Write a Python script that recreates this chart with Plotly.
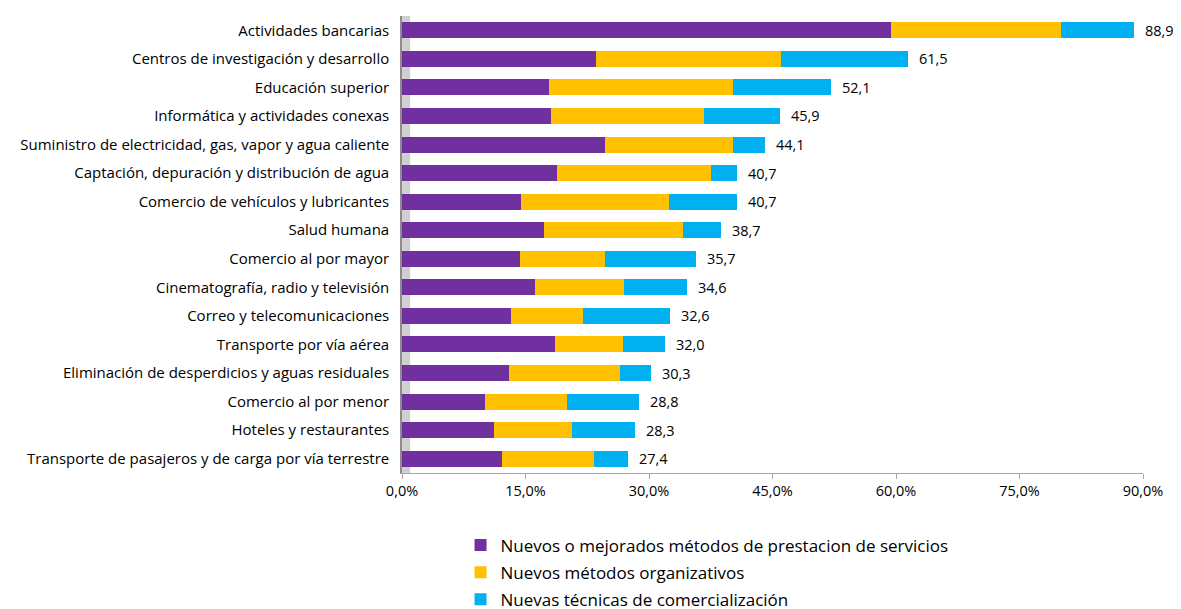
import plotly.graph_objects as go

# categorias de arriba hacia abajo
categorias = [
    "Actividades bancarias",
    "Centros de investigación y desarrollo",
    "Educación superior",
    "Informática y actividades conexas",
    "Suministro de electricidad, gas, vapor y agua caliente",
    "Captación, depuración y distribución de agua",
    "Comercio de vehículos y lubricantes",
    "Salud humana",
    "Comercio al por mayor",
    "Cinematografía, radio y televisión",
    "Correo y telecomunicaciones",
    "Transporte por vía aérea",
    "Eliminación de desperdicios y aguas residuales",
    "Comercio al por menor",
    "Hoteles y restaurantes",
    "Transporte de pasajeros y de carga por vía terrestre",
]

prestacion = [59.4, 23.6, 17.9, 18.1, 24.7, 18.8, 14.4, 17.2, 14.3, 16.1, 13.2, 18.6, 13.0, 10.1, 11.2, 12.1]
organizativos = [20.7, 22.4, 22.3, 18.6, 15.5, 18.7, 18.0, 16.9, 10.4, 10.9, 8.8, 8.2, 13.5, 9.9, 9.4, 11.2]
comercializacion = [8.8, 15.5, 11.9, 9.2, 3.9, 3.2, 8.3, 4.6, 11.0, 7.6, 10.6, 5.2, 3.8, 8.8, 7.7, 4.1]
totales = [88.9, 61.5, 52.1, 45.9, 44.1, 40.7, 40.7, 38.7, 35.7, 34.6, 32.6, 32.0, 30.3, 28.8, 28.3, 27.4]

ticks_x = [0, 15, 30, 45, 60, 75, 90]
ticks_txt = ["0,0%", "15,0%", "30,0%", "45,0%", "60,0%", "75,0%", "90,0%"]

series = [
    ("Nuevos o mejorados métodos de prestacion de servicios", prestacion, "#7030A0"),
    ("Nuevos métodos organizativos", organizativos, "#FFC000"),
    ("Nuevas técnicas de comercialización", comercializacion, "#00B0F0"),
]

fig = go.Figure()
for nombre, valores, color in series:
    fig.add_trace(go.Bar(
        y=categorias, x=valores, name=nombre, orientation="h",
        marker=dict(color=color, line=dict(width=0)),
        width=0.56, legendgroup=nombre,
    ))

# etiquetas de total
for cat, tot in zip(categorias, totales):
    fig.add_annotation(
        x=tot, y=cat, text=f"{tot:.1f}".replace(".", ","),
        showarrow=False, xanchor="left", xshift=9,
        font=dict(size=14.5, color="#000000"),
    )

# pared gris del eje vertical
fig.add_shape(type="rect", xref="paper", yref="paper", x0=0, x1=0.011, y0=0, y1=1,
              fillcolor="#D0D0D0", line=dict(width=0), layer="below")

fig.update_layout(
    barmode="stack",
    width=1181, height=609,
    margin=dict(l=394, r=46, t=8, b=144),
    paper_bgcolor="white", plot_bgcolor="white",
    font=dict(family="Open Sans, sans-serif", size=14, color="#000000"),
    bargap=0.44,
    legend=dict(
        orientation="v", x=0.079, xanchor="left",
        yref="container", y=0.147, yanchor="top",
        font=dict(size=17), traceorder="grouped", tracegroupgap=2,
    ),
    xaxis=dict(
        range=[0, 90], tickvals=ticks_x, ticktext=ticks_txt,
        showgrid=False, zeroline=False,
        showline=True, linecolor="#A6A6A6", linewidth=1,
        ticks="outside", ticklen=5, tickcolor="#A6A6A6",
        tickfont=dict(size=14.5),
    ),
    yaxis=dict(
        autorange="reversed", showgrid=False,
        showline=True, linecolor="#8C8C8C", linewidth=2,
        ticks="", tickfont=dict(size=15), ticksuffix="  ",
    ),
)

fig.write_html("out.html")
